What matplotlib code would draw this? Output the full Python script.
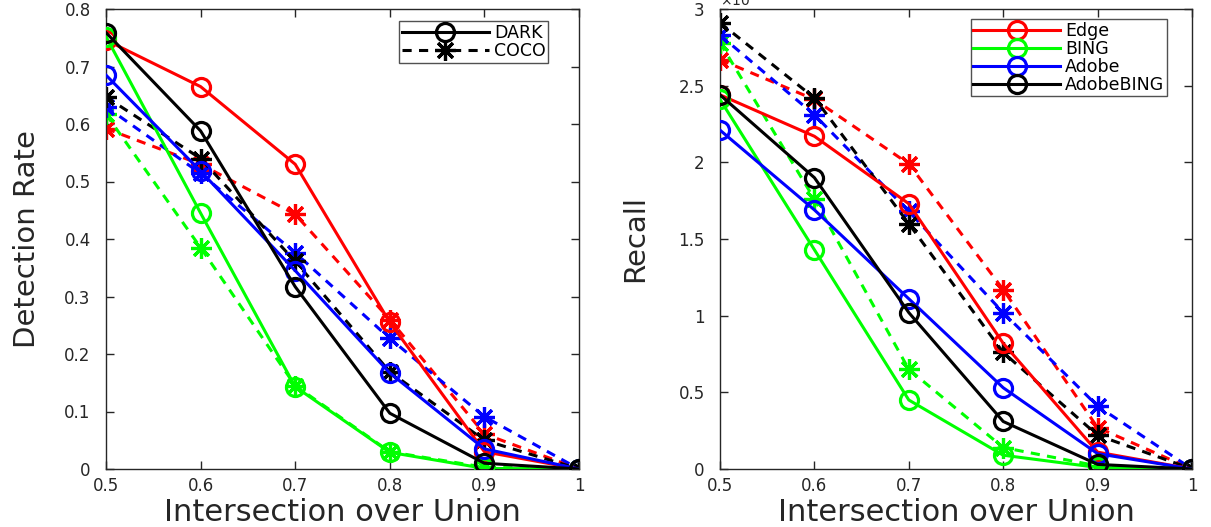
import matplotlib
matplotlib.use("Agg")
import matplotlib.pyplot as plt
from matplotlib.lines import Line2D

# ---------------- data ----------------
iou = [0.5, 0.6, 0.7, 0.8, 0.9, 1.0]

# Detection rate (left)
dark_edge      = [0.746, 0.665, 0.530, 0.255, 0.030, 0.0]
dark_bing      = [0.752, 0.445, 0.143, 0.029, 0.001, 0.0]
dark_adobe     = [0.685, 0.518, 0.345, 0.167, 0.035, 0.0]
dark_adobebing = [0.759, 0.588, 0.317, 0.097, 0.010, 0.0]
coco_edge      = [0.592, 0.530, 0.443, 0.260, 0.061, 0.0]
coco_bing      = [0.617, 0.385, 0.145, 0.030, 0.003, 0.0]
coco_adobe     = [0.630, 0.514, 0.376, 0.227, 0.091, 0.0]
coco_adobebing = [0.647, 0.540, 0.361, 0.169, 0.050, 0.0]

# Recall (right)
rdark_edge      = [2.44e-3, 2.17e-3, 1.73e-3, 0.82e-3, 0.11e-3, 0.0]
rdark_bing      = [2.41e-3, 1.43e-3, 0.45e-3, 0.09e-3, 0.01e-3, 0.0]
rdark_adobe     = [2.21e-3, 1.69e-3, 1.11e-3, 0.53e-3, 0.10e-3, 0.0]
rdark_adobebing = [2.44e-3, 1.90e-3, 1.02e-3, 0.31e-3, 0.03e-3, 0.0]
rcoco_edge      = [2.67e-3, 2.41e-3, 1.99e-3, 1.17e-3, 0.27e-3, 0.0]
rcoco_bing      = [2.78e-3, 1.76e-3, 0.65e-3, 0.14e-3, 0.02e-3, 0.0]
rcoco_adobe     = [2.83e-3, 2.31e-3, 1.68e-3, 1.02e-3, 0.41e-3, 0.0]
rcoco_adobebing = [2.91e-3, 2.42e-3, 1.60e-3, 0.76e-3, 0.22e-3, 0.0]

methods = ["Edge", "BING", "Adobe", "AdobeBING"]
datasets = ["DARK", "COCO"]
xticks = [0.5, 0.6, 0.7, 0.8, 0.9, 1.0]
xticklabels = ["0.5", "0.6", "0.7", "0.8", "0.9", "1"]
left_yticks = [0, 0.1, 0.2, 0.3, 0.4, 0.5, 0.6, 0.7, 0.8]
left_yticklabels = ["0", "0.1", "0.2", "0.3", "0.4", "0.5", "0.6", "0.7", "0.8"]
right_yticks = [0, 0.5e-3, 1e-3, 1.5e-3, 2e-3, 2.5e-3, 3e-3]
right_yticklabels = ["0", "0.5", "1", "1.5", "2", "2.5", "3"]

# ---------------- style ----------------
colors = ["#ff0000", "#00ff00", "#0000ff", "#000000"]
AST = (8, 2, 0)
TXT = "#262626"
LW = 2.2
DASH = (0, (3.0, 2.4))

fig = plt.figure(figsize=(12.11, 5.27), dpi=100)
ax1 = fig.add_axes([106 / 1211, 58 / 527, 473 / 1211, 460 / 527])
ax2 = fig.add_axes([720 / 1211, 58 / 527, 472 / 1211, 460 / 527])


def draw(ax, dark, coco):
    for vals, c in zip(coco, colors):
        ax.plot(iou, vals, color=c, lw=LW, ls=DASH, marker=AST,
                markersize=15, mew=2.3, zorder=2)
    for vals, c in zip(dark, colors):
        ax.plot(iou, vals, color=c, lw=LW, ls="-", marker="o",
                markersize=13, mfc="none", mew=2.3, zorder=3)


def style(ax, yticks, ylabels):
    ax.set_xlim(0.5, 1.0)
    ax.set_ylim(yticks[0], yticks[-1])
    ax.set_xticks(xticks)
    ax.set_xticklabels(xticklabels)
    ax.set_yticks(yticks)
    ax.set_yticklabels(ylabels)
    ax.tick_params(direction="in", length=6, width=1, top=True, right=True,
                   labelsize=12, labelcolor=TXT, colors="#262626")
    ax.tick_params(axis="x", pad=6)
    ax.tick_params(axis="y", pad=11)
    for s in ax.spines.values():
        s.set_linewidth(1.0)
        s.set_color("#262626")
    ax.set_xlabel("Intersection over Union", fontsize=22, color=TXT,
                  labelpad=2)


draw(ax1, [dark_edge, dark_bing, dark_adobe, dark_adobebing],
     [coco_edge, coco_bing, coco_adobe, coco_adobebing])
style(ax1, left_yticks, left_yticklabels)
ax1.set_ylabel("Detection Rate", fontsize=21, color=TXT, labelpad=17)

draw(ax2, [rdark_edge, rdark_bing, rdark_adobe, rdark_adobebing],
     [rcoco_edge, rcoco_bing, rcoco_adobe, rcoco_adobebing])
style(ax2, right_yticks, right_yticklabels)
ax2.set_ylabel("Recall", fontsize=21, color=TXT, labelpad=21)
ax2.text(0.0, 1.0, r"$\times10^{-3}$", transform=ax2.transAxes,
         fontsize=10, color=TXT, ha="left", va="bottom")

# legends
h1 = [Line2D([], [], color="k", lw=LW, marker="o", markersize=13, mfc="none", mew=2.3),
      Line2D([], [], color="k", lw=LW, ls=DASH, marker=AST,
             markersize=15, mew=2.3)]
leg1 = ax1.legend(h1, datasets, loc="upper right", bbox_to_anchor=(0.935, 0.973),
                  fontsize=12.5, handlelength=5.0, handletextpad=0.3,
                  labelspacing=0.0, borderpad=0.15, borderaxespad=0,
                  frameon=True, fancybox=False, edgecolor="#262626")
leg1.get_frame().set_linewidth(1.0)

h2 = [Line2D([], [], color=c, lw=LW, marker="o", markersize=13, mfc="none", mew=2.3)
      for c in colors]
leg2 = ax2.legend(h2, methods, loc="upper right", bbox_to_anchor=(0.947, 0.978),
                  fontsize=12.5, handlelength=5.0, handletextpad=0.3,
                  labelspacing=0.0, borderpad=0.15, borderaxespad=0,
                  frameon=True, fancybox=False, edgecolor="#262626")
leg2.get_frame().set_linewidth(1.0)

fig.savefig("out.png", dpi=100)
